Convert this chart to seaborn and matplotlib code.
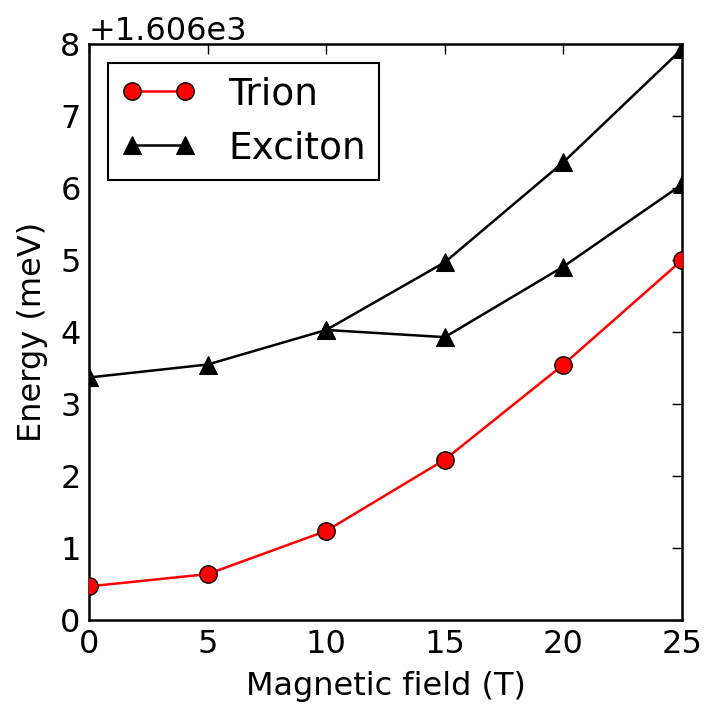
import matplotlib
matplotlib.use("Agg")
import matplotlib.pyplot as plt
import seaborn as sns
import pandas as pd

# Magnetic field values (T)
field = [0, 5, 10, 15, 20, 25]
# Trion energy (meV)
trion = [1606.47, 1606.64, 1607.24, 1608.23, 1609.55, 1611.00]
# Exciton energy, upper branch (meV)
exciton_upper = [1609.37, 1609.55, 1610.03, 1610.97, 1612.36, 1613.93]
# Exciton energy, lower branch from 10 T on (meV)
field_lower = [10, 15, 20, 25]
exciton_lower = [1610.03, 1609.93, 1610.91, 1612.05]

sns.set_theme(style="white")
plt.rcParams["font.family"] = ["DejaVu Sans"]
plt.rcParams.update({
    "text.color": "black", "axes.labelcolor": "black",
    "xtick.color": "black", "ytick.color": "black",
    "xtick.direction": "in", "ytick.direction": "in",
    "xtick.top": True, "ytick.right": True,
    "xtick.major.size": 7.5, "ytick.major.size": 7.5,
    "xtick.major.width": 1.0, "ytick.major.width": 1.0,
    "axes.linewidth": 1.8, "axes.edgecolor": "black",
})

fig = plt.figure(figsize=(7.09, 7.04), dpi=100)
ax = fig.add_axes([0.1255, 0.119, 0.8365, 0.8185])

df_t = pd.DataFrame({"B": field, "E": trion})
df_u = pd.DataFrame({"B": field, "E": exciton_upper})
df_l = pd.DataFrame({"B": field_lower, "E": exciton_lower})

sns.lineplot(data=df_t, x="B", y="E", ax=ax, color="red", marker="o",
             markersize=12.5, markerfacecolor="red", markeredgecolor="black",
             markeredgewidth=1, linewidth=1.8, label="Trion", sort=False,
             estimator=None, zorder=3)
sns.lineplot(data=df_u, x="B", y="E", ax=ax, color="black", marker="^",
             markersize=13, markeredgecolor="black", linewidth=1.8,
             label="Exciton", sort=False, estimator=None, zorder=3)
sns.lineplot(data=df_l, x="B", y="E", ax=ax, color="black", marker="^",
             markersize=13, markeredgecolor="black", linewidth=1.8,
             label="_nolegend_", sort=False, estimator=None, zorder=3)

ax.set_xlim(0, 25)
ax.set_ylim(1606, 1614)
ax.set_xticks([0, 5, 10, 15, 20, 25])
ax.set_yticks([1606 + i for i in range(9)])
ax.ticklabel_format(axis="y", useOffset=1606, style="plain")
ax.tick_params(labelsize=23, pad=6)
ax.yaxis.get_offset_text().set_fontsize(23)
ax.set_xlabel("Magnetic field (T)", fontsize=23, labelpad=8)
ax.set_ylabel("Energy (meV)", fontsize=23, labelpad=9)

leg = ax.legend(loc="upper left", fontsize=27, numpoints=2, fancybox=False,
                frameon=True, edgecolor="black", framealpha=1,
                handlelength=2.0, handletextpad=0.85, borderpad=0.36,
                labelspacing=0.48, borderaxespad=0.5)
leg.get_frame().set_linewidth(1.5)

fig.savefig("out.png", dpi=100)
